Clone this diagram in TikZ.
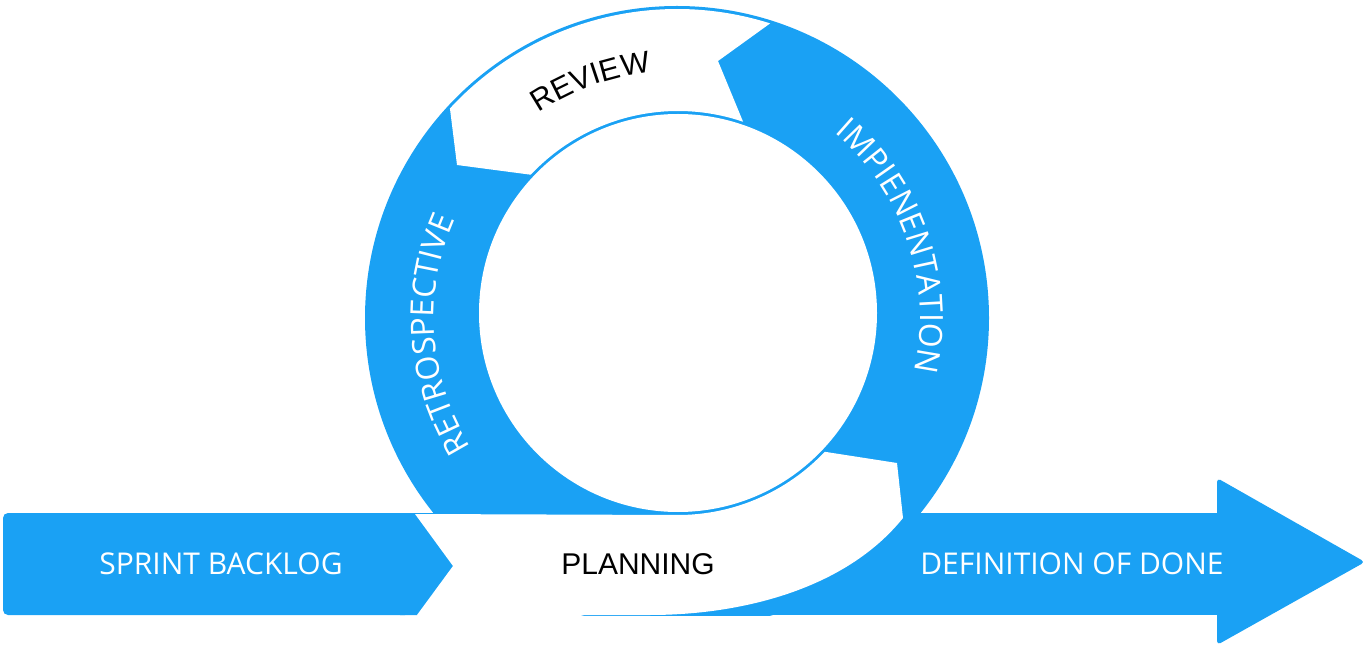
\documentclass[tikz,border=0pt]{standalone}
\usepackage{fontspec}
\newfontfamily\openfont{Open Sans}
\newfontfamily\libfont{Liberation Sans}
\usetikzlibrary{calc,decorations.text}
\definecolor{brandblue}{HTML}{1AA1F4}
\begin{document}
\begin{tikzpicture}[x=1pt,y=1pt,
  bandtext/.style={text=white,font=\openfont\fontsize{30}{36}\selectfont,inner sep=0pt},
  darktext/.style={text=black,font=\libfont\fontsize{30}{36}\selectfont,inner sep=0pt},
  bluefill/.style={fill=brandblue},
  whitefill/.style={fill=white}]
\useasboundingbox (0,0) rectangle (1366,646);
\coordinate (O) at (677,328);
\coordinate (I) at (678,333);
% ring
\begin{scope}
  \clip (0,31) rectangle (1366,646);
  \fill[bluefill] (O) circle[radius=312];
\end{scope}
\fill[whitefill] (I) circle[radius=199];
% review (white arrow at the top)
\fill[whitefill] ($(O)+(72.45:309)$) arc[start angle=72.45,end angle=137.3,radius=309]
  -- (457,481) -- ($(I)+(136.8:202)$) arc[start angle=136.8,end angle=71.2,radius=202]
  -- (718,585) -- cycle;
% band
\fill[bluefill,rounded corners=5] (3,31) rectangle (410,133);
\fill[bluefill] (400,133) -- (415,133) -- (453,80) -- (417,31) -- (400,31) -- cycle;
\fill[bluefill] (415,31) rectangle (1222,133);
\fill[bluefill,rounded corners=4] (1217,168) -- (1365,84) -- (1217,1) -- cycle;
% planning (white arrow at the bottom)
\fill[whitefill] (415,132) -- (678,131) arc[start angle=270,end angle=316.6,radius=202]
  -- (897,183) -- (903,128) .. controls (845,56) and (740,31) .. (650,31)
  -- (417,31) -- (453,80) -- cycle;
% texts
\node[bandtext] (backlog) at (221,82) {SPRINT BACKLOG};
\node[bandtext] (dod) at (1072,82) {DEFINITION OF DONE};
\node[darktext] (planning) at (638,82) {PLANNING};
\path[decorate,decoration={text along path,text align=center,
  text={|\libfont\fontsize{30.5}{30.5}\selectfont|REVIEW}}]
  ($(O)+(150:247)$) arc[start angle=150,end angle=70,radius=247];
\path[decorate,decoration={text along path,text align=center,
  text={|\openfont\fontsize{32}{32}\selectfont\color{white}|RETROSPECTIVE}}]
  ($(O)+(244:243)$) arc[start angle=244,end angle=124,radius=243];
\path[decorate,decoration={text along path,text align=center,
  text={|\openfont\fontsize{32}{32}\selectfont\color{white}|IMPIENENTATION}}]
  ($(O)+(78.5:243)$) arc[start angle=78.5,end angle=-41.5,radius=243];
\end{tikzpicture}
\end{document}
